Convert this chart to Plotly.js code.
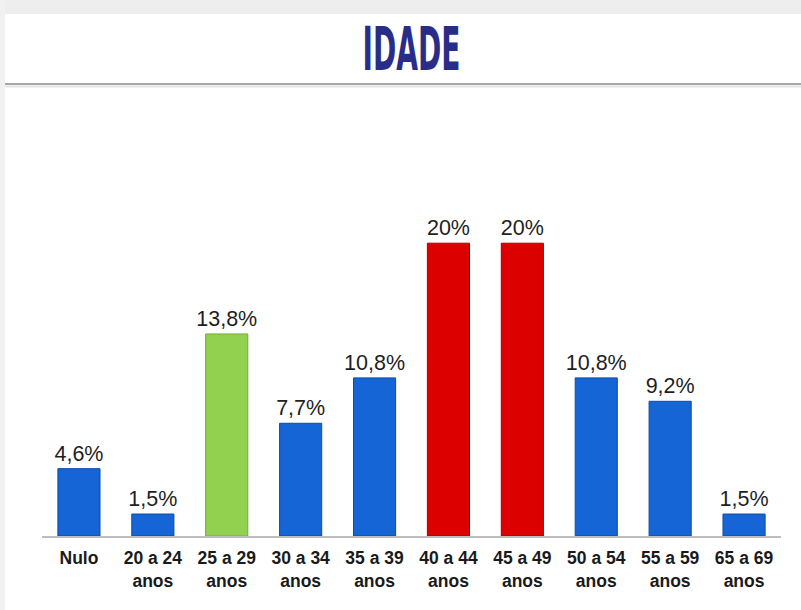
<!DOCTYPE html>
<html>
<head>
<meta charset="utf-8">
<script src="https://cdn.plot.ly/plotly-3.0.1.min.js"></script>
<style>
html,body{margin:0;padding:0;background:#fff;}
#chart{width:801px;height:610px;}
.gtitle{transform-box:fill-box;transform-origin:center;transform:scaleX(0.52);}
</style>
</head>
<body>
<div id="chart"></div>
<script>
var categories = ["Nulo","20 a 24<br>anos","25 a 29<br>anos","30 a 34<br>anos","35 a 39<br>anos","40 a 44<br>anos","45 a 49<br>anos","50 a 54<br>anos","55 a 59<br>anos","65 a 69<br>anos"];
var values = [4.6, 1.5, 13.8, 7.7, 10.8, 20, 20, 10.8, 9.2, 1.5];
var valueLabels = ["4,6%","1,5%","13,8%","7,7%","10,8%","20%","20%","10,8%","9,2%","1,5%"];
var barColors = ["#1565d6","#1565d6","#92d050","#1565d6","#1565d6","#dd0000","#dd0000","#1565d6","#1565d6","#1565d6"];
var edgeColors = ["#0b4aa8","#0b4aa8","#6fae2e","#0b4aa8","#0b4aa8","#a80000","#a80000","#0b4aa8","#0b4aa8","#0b4aa8"];

var trace = {
  type: "bar",
  x: categories,
  y: values,
  text: valueLabels,
  texttemplate: "%{text}",
  textposition: "outside",
  constraintext: "none",
  cliponaxis: false,
  textfont: {family: "Liberation Sans, Arial, sans-serif", size: 21.5, color: "#1e1e1e"},
  marker: {color: barColors, line: {color: edgeColors, width: 1}},
  hoverinfo: "none"
};

// plot area: x 42..781, y 170..536
var W = 801, H = 610, L = 42, R = 20, T = 170, B = 74;
function px(x){ return (x - L) / (W - L - R); }
function py(y){ return (H - B - y) / (H - T - B); }

var layout = {
  width: W, height: H,
  margin: {l: L, r: R, t: T, b: B},
  paper_bgcolor: "#ffffff",
  plot_bgcolor: "rgba(0,0,0,0)",
  showlegend: false,
  bargap: 0.43,
  title: {
    text: "<b>IDADE</b>",
    font: {family: "DejaVu Sans Condensed, DejaVu Sans, sans-serif", size: 60, color: "#2a2d88"},
    x: 0.5, xref: "paper", xanchor: "center",
    y: 1 - 49/H, yref: "container", yanchor: "middle"
  },
  xaxis: {
    type: "category",
    range: [-0.5, 9.5],
    showline: true, linecolor: "#bdbdbd", linewidth: 2,
    showgrid: false, zeroline: false, ticks: "",
    ticklabelstandoff: 5,
    tickfont: {family: "Liberation Sans, Arial, sans-serif", size: 17.5, color: "#1a1a1a", weight: "bold"},
    fixedrange: true
  },
  yaxis: {
    range: [0, 25],
    visible: false,
    showgrid: false, zeroline: false,
    fixedrange: true
  },
  shapes: [
    {type: "rect", xref: "paper", yref: "paper", x0: px(0), x1: px(801), y0: py(0), y1: py(14), fillcolor: "#eeeeee", line: {width: 0}, layer: "below"},
    {type: "rect", xref: "paper", yref: "paper", x0: px(0), x1: px(5), y0: py(0), y1: py(610), fillcolor: "#f1f1f1", line: {width: 0}, layer: "below"},
    {type: "line", xref: "paper", yref: "paper", x0: px(5), x1: px(801), y0: py(84), y1: py(84), line: {color: "#a8a8a8", width: 2}},
    {type: "line", xref: "paper", yref: "paper", x0: px(5), x1: px(801), y0: py(86.5), y1: py(86.5), line: {color: "#e4e4e4", width: 2}}
  ]
};

Plotly.newPlot("chart", [trace], layout, {displayModeBar: false, staticPlot: true});
</script>
</body>
</html>
